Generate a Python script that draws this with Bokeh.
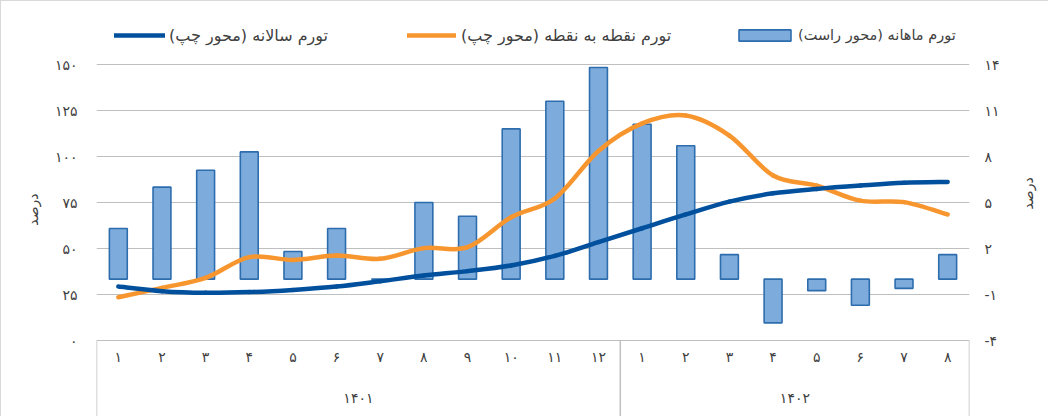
import math
from bokeh.plotting import figure
from bokeh.models import Range1d, LinearAxis, FixedTicker, Legend, LegendItem
from bokeh.core.properties import value
from bokeh.embed import file_html
from bokeh.resources import INLINE

# ---------------- data ----------------
years = ["۱۴۰۱", "۱۴۰۲"]
group_sizes = [12, 8]
months = ["۱", "۲", "۳", "۴", "۵", "۶", "۷", "۸", "۹", "۱۰", "۱۱", "۱۲",
          "۱", "۲", "۳", "۴", "۵", "۶", "۷", "۸"]
monthly = [3.3, 6.0, 7.1, 8.3, 1.8, 3.3, 0.0, 5.0, 4.1, 9.8, 11.6, 13.8,
           10.1, 8.7, 1.6, -2.85, -0.75, -1.7, -0.6, 1.6]
yearly = [29.3, 26.8, 25.9, 26.3, 27.5, 29.3, 32.2, 35.3, 37.7, 40.8, 46.0, 53.5,
          61.0, 68.5, 75.5, 80.0, 82.4, 84.2, 85.7, 86.2]
point_to_point = [23.5, 28.6, 34.0, 45.3, 43.8, 46.2, 44.4, 50.2, 50.7, 67.0, 77.2, 103.0,
                  118.0, 122.3, 111.4, 89.7, 84.2, 76.0, 75.2, 68.5]
left_ticks = [0, 25, 50, 75, 100, 125, 150]
left_tick_labels = ["۰", "۲۵", "۵۰", "۷۵", "۱۰۰", "۱۲۵", "۱۵۰"]
right_ticks = [-4, -1, 2, 5, 8, 11, 14]
right_tick_labels = ["-۴", "-۱", "۲", "۵", "۸", "۱۱", "۱۴"]
name_yearly = "تورم سالانه (محور چپ)"
name_p2p = "تورم نقطه به نقطه (محور چپ)"
name_monthly = "تورم ماهانه (محور راست)"
axis_title = "درصد"

FONT = "DejaVu Sans"
TXT = "#404040"
GRID = "#BFBFBF"

xs = list(range(1, len(months) + 1))

PX = 1.84  # pixels per left-axis unit
L_HI = 150 + 63 / PX
L_LO = L_HI - 416 / PX
R_LO, R_HI = -4 + 0.12 * L_LO, -4 + 0.12 * L_HI

p = figure(width=1048, height=416, output_backend="svg", toolbar_location=None,
           x_range=Range1d(0.5, len(months) + 0.5), y_range=Range1d(L_LO, L_HI),
           min_border_left=95, min_border_right=80, min_border_top=0, min_border_bottom=0)
p.extra_y_ranges = {"right": Range1d(R_LO, R_HI)}
p.outline_line_color = None
p.background_fill_color = "white"
p.border_fill_color = "white"
p.xaxis.visible = False
p.xgrid.visible = False

def style_axis(ax, ticks, labels, standoff, lab_standoff):
    ax.ticker = FixedTicker(ticks=ticks)
    ax.major_label_overrides = {t: l for t, l in zip(ticks, labels)}
    ax.axis_line_color = None
    ax.major_tick_line_color = None
    ax.minor_tick_line_color = None
    ax.major_tick_out = 0
    ax.major_tick_in = 0
    ax.minor_tick_out = 0
    ax.major_label_standoff = standoff
    ax.major_label_text_font = FONT
    ax.major_label_text_font_size = "14px"
    ax.major_label_text_color = TXT
    ax.axis_label = axis_title
    ax.axis_label_text_font = FONT
    ax.axis_label_text_font_size = "14px"
    ax.axis_label_text_font_style = "normal"
    ax.axis_label_text_color = TXT
    ax.axis_label_standoff = lab_standoff

style_axis(p.yaxis[0], left_ticks, left_tick_labels, 19, 11)
p.ygrid.ticker = FixedTicker(ticks=left_ticks)
p.ygrid.grid_line_color = GRID
p.ygrid.grid_line_width = 1.2

ra = LinearAxis(y_range_name="right")
style_axis(ra, right_ticks, right_tick_labels, 15, 25)
ra.axis_label_orientation = math.pi / 2
p.add_layout(ra, "right")

# category box
edges = [0.5]
for g in group_sizes:
    edges.append(edges[-1] + g)
p.segment(x0=edges, x1=edges, y0=[0] * len(edges), y1=[L_LO] * len(edges),
          line_color=GRID, line_width=1.5)

# bars
bars = p.vbar(x=xs, top=monthly, bottom=0, width=0.41, y_range_name="right",
              fill_color="#7DABDC", line_color="#2E6DAD", line_width=1.6)

# smoothed lines (Excel-like smoothing: cubic Bezier segments through the data points)
def smooth_line(xv, yv, color):
    n = len(xv)
    pts = list(zip(xv, yv))
    def P(i):
        return pts[min(max(i, 0), n - 1)]
    x0, y0, x1, y1, cx0, cy0, cx1, cy1 = [], [], [], [], [], [], [], []
    for i in range(n - 1):
        a, b = P(i), P(i + 1)
        pa, nb = P(i - 1), P(i + 2)
        x0.append(a[0]); y0.append(a[1]); x1.append(b[0]); y1.append(b[1])
        cx0.append(a[0] + (b[0] - pa[0]) / 6); cy0.append(a[1] + (b[1] - pa[1]) / 6)
        cx1.append(b[0] - (nb[0] - a[0]) / 6); cy1.append(b[1] - (nb[1] - a[1]) / 6)
    return p.bezier(x0=x0, y0=y0, x1=x1, y1=y1, cx0=cx0, cy0=cy0, cx1=cx1, cy1=cy1,
                    line_color=color, line_width=4.5, line_cap="round")

l_p2p = smooth_line(xs, point_to_point, "#F7962F")
l_year = smooth_line(xs, yearly, "#01509D")

# category labels
p.text(x=xs, y=-9.2, text=months, text_align="center", text_baseline="middle",
       text_font=value(FONT), text_font_size="14px", text_color=TXT)
centers = [(edges[i] + edges[i + 1]) / 2 for i in range(len(years))]
p.text(x=centers, y=-31.5, text=years, text_align="center", text_baseline="middle",
       text_font=value(FONT), text_font_size="14px", text_color=TXT)

def mk_legend(item_name, rend, xloc, gw, stand, fs):
    lg = Legend(items=[LegendItem(label=item_name, renderers=[rend], index=0)],
                location=(xloc, 372), orientation="horizontal",
                glyph_width=gw, glyph_height=14, label_standoff=stand,
                padding=0, margin=0, spacing=0,
                background_fill_alpha=0, border_line_color=None,
                label_text_font=FONT, label_text_font_size=fs,
                label_text_color=TXT, label_height=20)
    p.add_layout(lg, "center")

mk_legend(name_yearly, l_year, 18, 51, 4, "16px")
mk_legend(name_p2p, l_p2p, 311, 49, 5, "16px")
mk_legend(name_monthly, bars, 636, 65, 1, "14.5px")

p.styles = {"border-top": "1px solid #D9D9D9", "border-left": "1px solid #D9D9D9"}

open("out.html", "w").write(file_html(p, INLINE))
